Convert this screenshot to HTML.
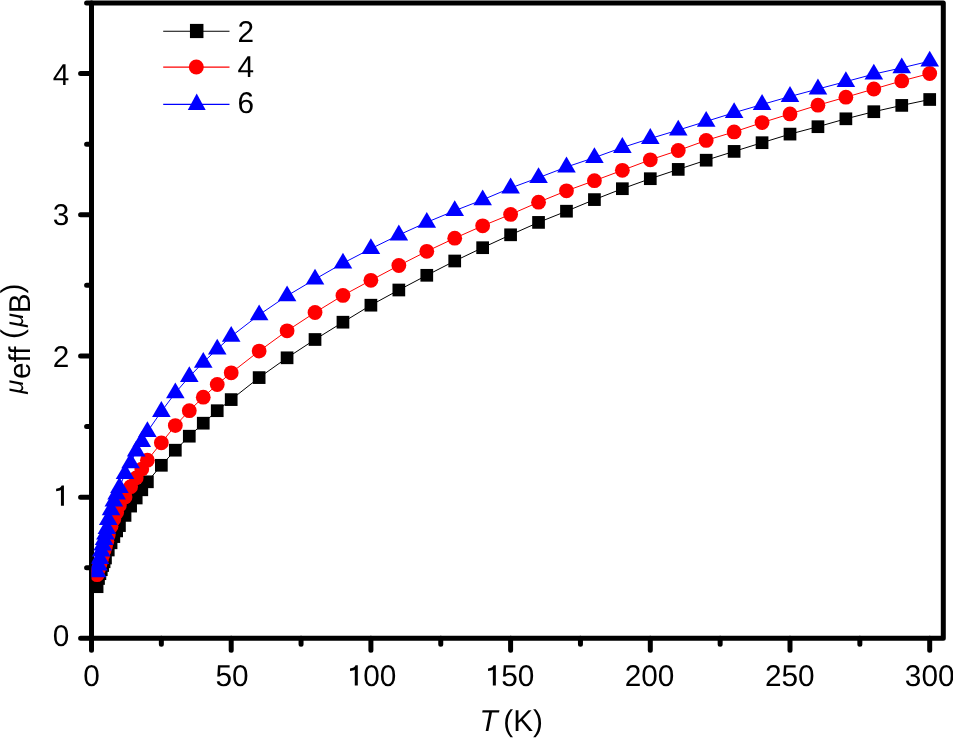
<!DOCTYPE html>
<html><head><meta charset="utf-8"><style>
html,body{margin:0;padding:0;background:#fff;width:953px;height:738px;overflow:hidden}
svg{display:block;font-family:"Liberation Sans",sans-serif;will-change:transform} text{text-rendering:geometricPrecision}
</style></head><body>
<svg width="953" height="738" viewBox="0 0 953 738">
<defs><clipPath id="pc"><rect x="91.5" y="2.95" width="851.80" height="635.40"/></clipPath></defs>
<rect width="953" height="738" fill="#fff"/>
<rect x="91.5" y="2.9500000000000455" width="851.80" height="635.40" fill="none" stroke="#000" stroke-width="5.0" stroke-linejoin="round"/><path d="M91.50 638.35V650.25M231.20 638.35V650.25M370.90 638.35V650.25M510.60 638.35V650.25M650.30 638.35V650.25M790.00 638.35V650.25M929.70 638.35V650.25M161.35 638.35V644.35M301.05 638.35V644.35M440.75 638.35V644.35M580.45 638.35V644.35M720.15 638.35V644.35M859.85 638.35V644.35M91.5 638.35H80.6M91.5 497.15H80.6M91.5 355.95H80.6M91.5 214.75H80.6M91.5 73.55H80.6M91.5 567.75H86.6M91.5 426.55H86.6M91.5 285.35H86.6M91.5 144.15H86.6M91.5 2.95H86.6" stroke="#000" stroke-width="5.0" stroke-linecap="round" fill="none"/>
<g clip-path="url(#pc)">
<polyline points="97.09,586.70 98.48,578.50 99.88,573.70 101.28,569.70 102.68,565.50 104.07,561.75 105.47,558.00 108.26,550.00 111.06,542.80 113.85,536.60 116.65,530.90 119.44,525.60 125.03,515.40 130.62,506.10 136.20,498.00 141.79,489.80 147.38,481.80 161.35,465.30 175.32,450.20 189.29,436.20 203.26,423.20 217.23,410.70 231.20,399.60 259.14,377.60 287.08,357.80 315.02,339.50 342.96,322.20 370.90,305.20 398.84,290.00 426.78,275.30 454.72,261.00 482.66,247.70 510.60,234.80 538.54,222.40 566.48,211.20 594.42,199.60 622.36,188.70 650.30,178.70 678.24,169.40 706.18,160.20 734.12,151.40 762.06,142.70 790.00,134.10 817.94,126.70 845.88,118.80 873.82,111.70 901.76,105.40 929.70,99.50" fill="none" stroke="#000" stroke-width="1.0" stroke-linejoin="round"/>
<g fill="#000"><rect x="90.74" y="580.35" width="12.7" height="12.7"/><rect x="92.14" y="572.15" width="12.7" height="12.7"/><rect x="93.53" y="567.35" width="12.7" height="12.7"/><rect x="94.93" y="563.35" width="12.7" height="12.7"/><rect x="96.33" y="559.15" width="12.7" height="12.7"/><rect x="97.72" y="555.40" width="12.7" height="12.7"/><rect x="99.12" y="551.65" width="12.7" height="12.7"/><rect x="101.91" y="543.65" width="12.7" height="12.7"/><rect x="104.71" y="536.45" width="12.7" height="12.7"/><rect x="107.50" y="530.25" width="12.7" height="12.7"/><rect x="110.30" y="524.55" width="12.7" height="12.7"/><rect x="113.09" y="519.25" width="12.7" height="12.7"/><rect x="118.68" y="509.05" width="12.7" height="12.7"/><rect x="124.27" y="499.75" width="12.7" height="12.7"/><rect x="129.85" y="491.65" width="12.7" height="12.7"/><rect x="135.44" y="483.45" width="12.7" height="12.7"/><rect x="141.03" y="475.45" width="12.7" height="12.7"/><rect x="155.00" y="458.95" width="12.7" height="12.7"/><rect x="168.97" y="443.85" width="12.7" height="12.7"/><rect x="182.94" y="429.85" width="12.7" height="12.7"/><rect x="196.91" y="416.85" width="12.7" height="12.7"/><rect x="210.88" y="404.35" width="12.7" height="12.7"/><rect x="224.85" y="393.25" width="12.7" height="12.7"/><rect x="252.79" y="371.25" width="12.7" height="12.7"/><rect x="280.73" y="351.45" width="12.7" height="12.7"/><rect x="308.67" y="333.15" width="12.7" height="12.7"/><rect x="336.61" y="315.85" width="12.7" height="12.7"/><rect x="364.55" y="298.85" width="12.7" height="12.7"/><rect x="392.49" y="283.65" width="12.7" height="12.7"/><rect x="420.43" y="268.95" width="12.7" height="12.7"/><rect x="448.37" y="254.65" width="12.7" height="12.7"/><rect x="476.31" y="241.35" width="12.7" height="12.7"/><rect x="504.25" y="228.45" width="12.7" height="12.7"/><rect x="532.19" y="216.05" width="12.7" height="12.7"/><rect x="560.13" y="204.85" width="12.7" height="12.7"/><rect x="588.07" y="193.25" width="12.7" height="12.7"/><rect x="616.01" y="182.35" width="12.7" height="12.7"/><rect x="643.95" y="172.35" width="12.7" height="12.7"/><rect x="671.89" y="163.05" width="12.7" height="12.7"/><rect x="699.83" y="153.85" width="12.7" height="12.7"/><rect x="727.77" y="145.05" width="12.7" height="12.7"/><rect x="755.71" y="136.35" width="12.7" height="12.7"/><rect x="783.65" y="127.75" width="12.7" height="12.7"/><rect x="811.59" y="120.35" width="12.7" height="12.7"/><rect x="839.53" y="112.45" width="12.7" height="12.7"/><rect x="867.47" y="105.35" width="12.7" height="12.7"/><rect x="895.41" y="99.05" width="12.7" height="12.7"/><rect x="923.35" y="93.15" width="12.7" height="12.7"/></g>
<polyline points="97.09,574.70 98.48,569.00 99.88,564.55 101.28,560.35 102.68,555.25 104.07,550.62 105.47,546.00 106.87,541.25 108.26,534.75 111.06,526.30 113.85,518.90 116.65,512.50 119.44,505.00 125.03,496.90 130.62,486.70 136.20,477.87 141.79,469.03 147.38,460.20 161.35,442.80 175.32,425.60 189.29,410.70 203.26,397.20 217.23,384.50 231.20,372.80 259.14,351.10 287.08,330.80 315.02,312.50 342.96,295.40 370.90,280.30 398.84,265.50 426.78,251.30 454.72,238.20 482.66,225.80 510.60,214.40 538.54,202.20 566.48,190.80 594.42,180.70 622.36,170.30 650.30,159.80 678.24,150.50 706.18,140.40 734.12,131.90 762.06,122.60 790.00,113.90 817.94,105.20 845.88,97.20 873.82,89.00 901.76,80.90 929.70,73.50" fill="none" stroke="#f00" stroke-width="1.0" stroke-linejoin="round"/>
<g fill="#f00"><circle cx="97.09" cy="574.70" r="7.4"/><circle cx="98.48" cy="569.00" r="7.4"/><circle cx="99.88" cy="564.55" r="7.4"/><circle cx="101.28" cy="560.35" r="7.4"/><circle cx="102.68" cy="555.25" r="7.4"/><circle cx="104.07" cy="550.62" r="7.4"/><circle cx="105.47" cy="546.00" r="7.4"/><circle cx="106.87" cy="541.25" r="7.4"/><circle cx="108.26" cy="534.75" r="7.4"/><circle cx="111.06" cy="526.30" r="7.4"/><circle cx="113.85" cy="518.90" r="7.4"/><circle cx="116.65" cy="512.50" r="7.4"/><circle cx="119.44" cy="505.00" r="7.4"/><circle cx="125.03" cy="496.90" r="7.4"/><circle cx="130.62" cy="486.70" r="7.4"/><circle cx="136.20" cy="477.87" r="7.4"/><circle cx="141.79" cy="469.03" r="7.4"/><circle cx="147.38" cy="460.20" r="7.4"/><circle cx="161.35" cy="442.80" r="7.4"/><circle cx="175.32" cy="425.60" r="7.4"/><circle cx="189.29" cy="410.70" r="7.4"/><circle cx="203.26" cy="397.20" r="7.4"/><circle cx="217.23" cy="384.50" r="7.4"/><circle cx="231.20" cy="372.80" r="7.4"/><circle cx="259.14" cy="351.10" r="7.4"/><circle cx="287.08" cy="330.80" r="7.4"/><circle cx="315.02" cy="312.50" r="7.4"/><circle cx="342.96" cy="295.40" r="7.4"/><circle cx="370.90" cy="280.30" r="7.4"/><circle cx="398.84" cy="265.50" r="7.4"/><circle cx="426.78" cy="251.30" r="7.4"/><circle cx="454.72" cy="238.20" r="7.4"/><circle cx="482.66" cy="225.80" r="7.4"/><circle cx="510.60" cy="214.40" r="7.4"/><circle cx="538.54" cy="202.20" r="7.4"/><circle cx="566.48" cy="190.80" r="7.4"/><circle cx="594.42" cy="180.70" r="7.4"/><circle cx="622.36" cy="170.30" r="7.4"/><circle cx="650.30" cy="159.80" r="7.4"/><circle cx="678.24" cy="150.50" r="7.4"/><circle cx="706.18" cy="140.40" r="7.4"/><circle cx="734.12" cy="131.90" r="7.4"/><circle cx="762.06" cy="122.60" r="7.4"/><circle cx="790.00" cy="113.90" r="7.4"/><circle cx="817.94" cy="105.20" r="7.4"/><circle cx="845.88" cy="97.20" r="7.4"/><circle cx="873.82" cy="89.00" r="7.4"/><circle cx="901.76" cy="80.90" r="7.4"/><circle cx="929.70" cy="73.50" r="7.4"/></g>
<polyline points="97.09,571.80 98.48,565.00 99.88,558.50 101.28,551.00 102.68,545.00 104.07,539.50 105.47,534.00 106.87,528.50 108.26,519.50 111.06,509.80 113.85,501.20 116.65,494.10 119.44,487.50 125.03,473.70 130.62,462.90 136.20,451.00 141.79,441.50 147.38,431.70 161.35,411.50 175.32,392.90 189.29,376.70 203.26,362.40 217.23,349.10 231.20,336.40 259.14,314.80 287.08,295.80 315.02,279.20 342.96,263.20 370.90,248.70 398.84,235.00 426.78,222.30 454.72,210.70 482.66,199.80 510.60,188.00 538.54,177.70 566.48,167.00 594.42,157.60 622.36,147.50 650.30,138.50 678.24,130.10 706.18,121.40 734.12,112.70 762.06,104.50 790.00,96.50 817.94,89.00 845.88,81.60 873.82,74.10 901.76,67.85 929.70,61.20" fill="none" stroke="#00f" stroke-width="1.0" stroke-linejoin="round"/>
<g fill="#00f"><path d="M97.09 561.40L106.39 577.20L87.79 577.20Z"/><path d="M98.48 554.60L107.78 570.40L89.19 570.40Z"/><path d="M99.88 548.10L109.18 563.90L90.58 563.90Z"/><path d="M101.28 540.60L110.58 556.40L91.98 556.40Z"/><path d="M102.68 534.60L111.98 550.40L93.38 550.40Z"/><path d="M104.07 529.10L113.37 544.90L94.77 544.90Z"/><path d="M105.47 523.60L114.77 539.40L96.17 539.40Z"/><path d="M106.87 518.10L116.17 533.90L97.57 533.90Z"/><path d="M108.26 509.10L117.56 524.90L98.96 524.90Z"/><path d="M111.06 499.40L120.36 515.20L101.76 515.20Z"/><path d="M113.85 490.80L123.15 506.60L104.55 506.60Z"/><path d="M116.65 483.70L125.95 499.50L107.35 499.50Z"/><path d="M119.44 477.10L128.74 492.90L110.14 492.90Z"/><path d="M125.03 463.30L134.33 479.10L115.73 479.10Z"/><path d="M130.62 452.50L139.92 468.30L121.32 468.30Z"/><path d="M136.20 440.60L145.50 456.40L126.90 456.40Z"/><path d="M141.79 431.10L151.09 446.90L132.49 446.90Z"/><path d="M147.38 421.30L156.68 437.10L138.08 437.10Z"/><path d="M161.35 401.10L170.65 416.90L152.05 416.90Z"/><path d="M175.32 382.50L184.62 398.30L166.02 398.30Z"/><path d="M189.29 366.30L198.59 382.10L179.99 382.10Z"/><path d="M203.26 352.00L212.56 367.80L193.96 367.80Z"/><path d="M217.23 338.70L226.53 354.50L207.93 354.50Z"/><path d="M231.20 326.00L240.50 341.80L221.90 341.80Z"/><path d="M259.14 304.40L268.44 320.20L249.84 320.20Z"/><path d="M287.08 285.40L296.38 301.20L277.78 301.20Z"/><path d="M315.02 268.80L324.32 284.60L305.72 284.60Z"/><path d="M342.96 252.80L352.26 268.60L333.66 268.60Z"/><path d="M370.90 238.30L380.20 254.10L361.60 254.10Z"/><path d="M398.84 224.60L408.14 240.40L389.54 240.40Z"/><path d="M426.78 211.90L436.08 227.70L417.48 227.70Z"/><path d="M454.72 200.30L464.02 216.10L445.42 216.10Z"/><path d="M482.66 189.40L491.96 205.20L473.36 205.20Z"/><path d="M510.60 177.60L519.90 193.40L501.30 193.40Z"/><path d="M538.54 167.30L547.84 183.10L529.24 183.10Z"/><path d="M566.48 156.60L575.78 172.40L557.18 172.40Z"/><path d="M594.42 147.20L603.72 163.00L585.12 163.00Z"/><path d="M622.36 137.10L631.66 152.90L613.06 152.90Z"/><path d="M650.30 128.10L659.60 143.90L641.00 143.90Z"/><path d="M678.24 119.70L687.54 135.50L668.94 135.50Z"/><path d="M706.18 111.00L715.48 126.80L696.88 126.80Z"/><path d="M734.12 102.30L743.42 118.10L724.82 118.10Z"/><path d="M762.06 94.10L771.36 109.90L752.76 109.90Z"/><path d="M790.00 86.10L799.30 101.90L780.70 101.90Z"/><path d="M817.94 78.60L827.24 94.40L808.64 94.40Z"/><path d="M845.88 71.20L855.18 87.00L836.58 87.00Z"/><path d="M873.82 63.70L883.12 79.50L864.52 79.50Z"/><path d="M901.76 57.45L911.06 73.25L892.46 73.25Z"/><path d="M929.70 50.80L939.00 66.60L920.40 66.60Z"/></g>
</g>
<g font-family="Liberation Sans" font-size="29.8" fill="#000">
<text transform="translate(83.22,685.60) scale(1,1.01)">0</text><text transform="translate(215.48,685.60) scale(1,1.01)">5</text><text transform="translate(232.05,685.60) scale(1,1.01)">0</text><path d="M354.79 685.60L357.80 685.60L357.80 665.28L355.54 665.28C354.79 666.94 353.15 668.29 349.99 668.44L349.99 670.94C352.26 670.94 353.75 670.55 354.79 669.80Z"/><text transform="translate(363.17,685.60) scale(1,1.01)">0</text><text transform="translate(379.73,685.60) scale(1,1.01)">0</text><path d="M492.84 685.60L495.85 685.60L495.85 665.28L493.59 665.28C492.84 666.94 491.20 668.29 488.04 668.44L488.04 670.94C490.31 670.94 491.80 670.55 492.84 669.80Z"/><text transform="translate(501.22,685.60) scale(1,1.01)">5</text><text transform="translate(517.78,685.60) scale(1,1.01)">0</text><text transform="translate(624.65,685.60) scale(1,1.01)">2</text><text transform="translate(641.22,685.60) scale(1,1.01)">0</text><text transform="translate(657.78,685.60) scale(1,1.01)">0</text><text transform="translate(764.90,685.60) scale(1,1.01)">2</text><text transform="translate(781.47,685.60) scale(1,1.01)">5</text><text transform="translate(798.03,685.60) scale(1,1.01)">0</text><text transform="translate(904.85,685.60) scale(1,1.01)">3</text><text transform="translate(921.42,685.60) scale(1,1.01)">0</text><text transform="translate(937.98,685.60) scale(1,1.01)">0</text><text transform="translate(52.73,645.70) scale(1,1.01)">0</text><path d="M60.93 505.80L63.94 505.80L63.94 485.48L61.67 485.48C60.93 487.14 59.29 488.49 56.13 488.64L56.13 491.14C58.39 491.14 59.88 490.75 60.93 490.00Z"/><text transform="translate(52.73,366.60) scale(1,1.01)">2</text><text transform="translate(52.73,224.90) scale(1,1.01)">3</text><text transform="translate(52.73,84.70) scale(1,1.01)">4</text><text transform="translate(479.60,731.40) scale(1,1.01)"><tspan font-style="italic">T</tspan><tspan dx="-2.8"> (K)</tspan></text><g transform="translate(21.7,394.5) rotate(-90) scale(1,1.01)"><text x="0.70" y="0.9" font-family="Liberation Sans" font-style="italic" font-size="25.4">&#956;</text><text x="15.40" y="8.5">eff</text><text x="55.50" y="0">(</text><text x="67.50" y="0.9" font-family="Liberation Sans" font-style="italic" font-size="25.4">&#956;</text><text x="81.20" y="8.5">B</text><text x="101.00" y="0">)</text></g>
<line x1="163.2" y1="31.3" x2="229.5" y2="31.3" stroke="#000" stroke-width="1.1"/><rect x="189.95" y="23.90" width="13.5" height="14.2" fill="#000"/><line x1="163.2" y1="67.1" x2="229.5" y2="67.1" stroke="#f00" stroke-width="1.1"/><circle cx="196.3" cy="67.0" r="7.5" fill="#f00"/><line x1="163.2" y1="104.4" x2="229.5" y2="104.4" stroke="#00f" stroke-width="1.1"/><path d="M196.7 93.5L205.7 109.9L187.8 109.9Z" fill="#00f"/><text transform="translate(237.40,41.60) scale(1,1.01)">2</text><text transform="translate(237.40,77.10) scale(1,1.01)">4</text><text transform="translate(237.40,113.40) scale(1,1.01)">6</text>
</g>
</svg>
</body></html>
